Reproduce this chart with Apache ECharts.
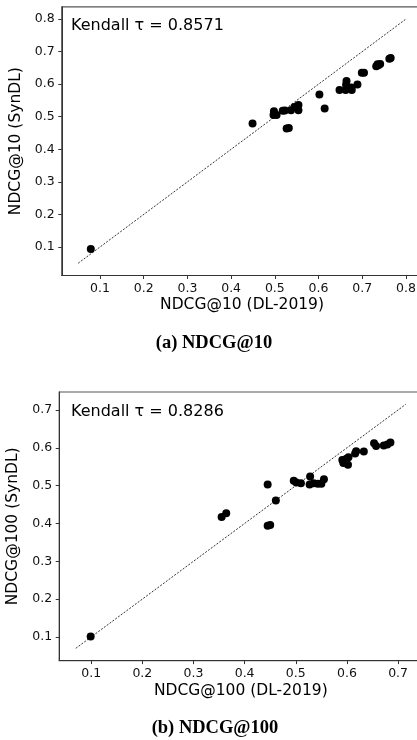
<!DOCTYPE html>
<html>
<head>
<meta charset="utf-8">
<script src="https://cdn.jsdelivr.net/npm/echarts@6.0.0/dist/echarts.min.js"></script>
<style>
html,body{margin:0;padding:0;background:#fff;}
#c{width:417px;height:740px;}
</style>
</head>
<body>
<div id="c"></div>
<script>
// ---- data: (a) NDCG@10 ----
const x10 = [0.079, 0.449, 0.498, 0.497, 0.504, 0.518, 0.523, 0.537, 0.545, 0.554, 0.554, 0.527, 0.532, 0.602, 0.614, 0.648, 0.664, 0.663, 0.662, 0.676, 0.675, 0.689, 0.699, 0.704, 0.732, 0.735, 0.741, 0.737, 0.762, 0.765];
const y10 = [0.094, 0.479, 0.517, 0.505, 0.505, 0.518, 0.519, 0.520, 0.530, 0.536, 0.520, 0.464, 0.465, 0.568, 0.525, 0.582, 0.610, 0.598, 0.582, 0.582, 0.590, 0.599, 0.635, 0.635, 0.655, 0.661, 0.662, 0.658, 0.678, 0.680];
const diag10 = [0.05, 0.8];
const lim10 = [0.0125, 0.8375];
const ticks10 = [0.1, 0.2, 0.3, 0.4, 0.5, 0.6, 0.7, 0.8];
const tau10 = "Kendall \u03c4 = 0.8571";

// ---- data: (b) NDCG@100 ----
const x100 = [0.099, 0.355, 0.364, 0.445, 0.445, 0.450, 0.461, 0.496, 0.501, 0.510, 0.528, 0.527, 0.535, 0.543, 0.550, 0.555, 0.591, 0.593, 0.599, 0.603, 0.602, 0.616, 0.618, 0.633, 0.653, 0.657, 0.672, 0.679, 0.685];
const y100 = [0.101, 0.417, 0.427, 0.503, 0.394, 0.396, 0.461, 0.513, 0.508, 0.506, 0.524, 0.503, 0.506, 0.505, 0.505, 0.517, 0.568, 0.560, 0.571, 0.575, 0.555, 0.585, 0.591, 0.590, 0.612, 0.605, 0.606, 0.609, 0.614];
const diag100 = [0.07, 0.715];
const lim100 = [0.0375, 0.7475];
const ticks100 = [0.1, 0.2, 0.3, 0.4, 0.5, 0.6, 0.7];
const tau100 = "Kendall \u03c4 = 0.8286";

const xName10 = "NDCG@10 (DL-2019)", yName10 = "NDCG@10 (SynDL)";
const xName100 = "NDCG@100 (DL-2019)", yName100 = "NDCG@100 (SynDL)";
const caption10 = "(a) NDCG@10", caption100 = "(b) NDCG@100";

const FONT = "DejaVu Sans";
const AX = '#333';

function zip(a, b) { return a.map((v, i) => [v, b[i]]); }

function makeAxis(idx, lim, ticks, name, gap) {
  return {
    type: 'value', gridIndex: idx, min: lim[0], max: lim[1],
    name: name, nameLocation: 'middle', nameGap: gap,
    nameTextStyle: {fontFamily: FONT, fontSize: 15.5, color: '#000'},
    axisLine: {show: true, onZero: false, lineStyle: {color: AX, width: 1}},
    axisTick: {show: true, length: 3.5, customValues: ticks, lineStyle: {color: AX, width: 1}},
    axisLabel: {show: true, customValues: ticks, margin: 7, fontFamily: FONT, fontSize: 12.5, color: '#111',
      formatter: v => Number(v).toFixed(1)},
    splitLine: {show: false}
  };
}

const chart = echarts.init(document.getElementById('c'), null, {renderer: 'canvas'});
chart.setOption({
  animation: false,
  backgroundColor: '#fff',
  grid: [
    {left: 61.75, top: 6.8, width: 360.6, height: 268.7, outerBoundsMode: 'none', containLabel: false,
      show: true, borderColor: '#555', borderWidth: 1.2, backgroundColor: 'transparent'},
    {left: 59.2, top: 392, width: 363.2, height: 268.6, outerBoundsMode: 'none', containLabel: false,
      show: true, borderColor: '#555', borderWidth: 1.2, backgroundColor: 'transparent'}
  ],
  xAxis: [
    makeAxis(0, lim10, ticks10, xName10, 21),
    makeAxis(1, lim100, ticks100, xName100, 22)
  ],
  yAxis: [
    makeAxis(0, lim10, ticks10, yName10, 33),
    makeAxis(1, lim100, ticks100, yName100, 31)
  ],
  series: [
    {type: 'line', xAxisIndex: 0, yAxisIndex: 0, data: zip(diag10, diag10), showSymbol: false, silent: true,
      lineStyle: {color: '#000', width: 0.8, type: [2, 1.5]}, z: 1},
    {type: 'scatter', xAxisIndex: 0, yAxisIndex: 0, data: zip(x10, y10), symbolSize: 8,
      itemStyle: {color: '#000', opacity: 1}, z: 2},
    {type: 'line', xAxisIndex: 1, yAxisIndex: 1, data: zip(diag100, diag100), showSymbol: false, silent: true,
      lineStyle: {color: '#000', width: 0.8, type: [2, 1.5]}, z: 1},
    {type: 'scatter', xAxisIndex: 1, yAxisIndex: 1, data: zip(x100, y100), symbolSize: 8,
      itemStyle: {color: '#000', opacity: 1}, z: 2}
  ],
  graphic: [
    {type: 'text', left: 71, top: 18, style: {text: tau10, font: '16px "DejaVu Sans"', fill: '#000'}},
    {type: 'text', left: 71, top: 404, style: {text: tau100, font: '16px "DejaVu Sans"', fill: '#000'}},
    {type: 'text', x: 214, y: 343, style: {text: caption10, font: 'bold 18.5px "Liberation Serif"', fill: '#000', align: 'center', verticalAlign: 'middle'}},
    {type: 'text', x: 215, y: 728, style: {text: caption100, font: 'bold 18.5px "Liberation Serif"', fill: '#000', align: 'center', verticalAlign: 'middle'}}
  ]
});
</script>
</body>
</html>
